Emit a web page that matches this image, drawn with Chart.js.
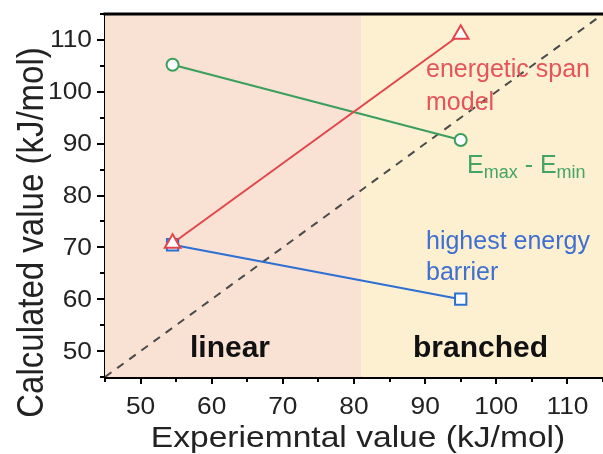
<!DOCTYPE html>
<html>
<head>
<meta charset="utf-8">
<script src="https://cdn.jsdelivr.net/npm/chart.js@4"></script>
<style>
html,body{margin:0;padding:0;background:#fff;}
#wrap{width:603px;height:454px;position:relative;}
</style>
</head>
<body>
<div id="wrap"><canvas id="c" width="603" height="454"></canvas></div>
<script>
// ---- data ----
const expValues = [54.5, 95];
const spanModel = [70.8, 111.1];      // energetic span model (triangles)
const emaxEmin = [105.2, 90.7];       // Emax - Emin (circles)
const highestBarrier = [70.5, 60.0];  // highest energy barrier (squares)
const parityLine = [45, 115];
const xTicks = [50, 60, 70, 80, 90, 100, 110];
const yTicks = [50, 60, 70, 80, 90, 100, 110];
const xTitle = 'Experiemntal value (kJ/mol)';
const yTitle = 'Calculated value (kJ/mol)';
const regionBoundary = 81;
const regionNames = ['linear', 'branched'];

const toPts = (xs, ys) => xs.map((x, i) => ({x: x, y: ys[i]}));

const RED = '#e0464b', GREEN = '#3a9e5c', BLUE = '#2d6fd2';
const FONT = '"Liberation Sans", Arial, sans-serif';
const STRETCH = 1.12;

function stretchedText(ctx, text, x, y, size, align, baseline, rotate) {
  ctx.save();
  ctx.translate(x, y);
  ctx.scale(STRETCH, 1);
  if (rotate) ctx.rotate(-Math.PI / 2);
  ctx.font = size + 'px ' + FONT;
  ctx.textAlign = align;
  ctx.textBaseline = baseline;
  ctx.fillText(text, 0, 0);
  ctx.restore();
}

const decor = {
  id: 'decor',
  beforeDatasetsDraw(chart) {
    const {ctx, chartArea: a, scales: {x}} = chart;
    const bx = x.getPixelForValue(regionBoundary);
    ctx.save();
    ctx.fillStyle = '#f9e1d3';
    ctx.fillRect(a.left, a.top, bx - a.left, a.bottom - a.top);
    ctx.fillStyle = '#fdf0d1';
    ctx.fillRect(bx, a.top, a.right - bx, a.bottom - a.top);
    ctx.restore();
  },
  afterDraw(chart) {
    const {ctx, chartArea: a, scales: {x, y}} = chart;
    ctx.save();
    // top border
    ctx.strokeStyle = '#000';
    ctx.lineWidth = 3;
    ctx.beginPath();
    ctx.moveTo(a.left - 1.5, a.top);
    ctx.lineTo(a.right, a.top);
    ctx.stroke();
    // minor ticks
    ctx.lineWidth = 2;
    for (let v = 45; v <= 115; v += 10) {
      const px = Math.round(x.getPixelForValue(v));
      ctx.beginPath(); ctx.moveTo(px, a.bottom); ctx.lineTo(px, a.bottom + 5); ctx.stroke();
      const py = Math.round(y.getPixelForValue(v));
      ctx.beginPath(); ctx.moveTo(a.left, py); ctx.lineTo(a.left - 5, py); ctx.stroke();
    }
    // tick labels
    ctx.fillStyle = '#222';
    xTicks.forEach(v => stretchedText(ctx, String(v), x.getPixelForValue(v), a.bottom + 37, 23.5, 'center', 'alphabetic'));
    yTicks.forEach(v => stretchedText(ctx, String(v), a.left - 13, y.getPixelForValue(v) + 1, 23.5, 'right', 'middle'));
    // axis titles
    stretchedText(ctx, xTitle, (a.left + a.right) / 2 + 4, a.bottom + 70, 30, 'center', 'alphabetic');
    stretchedText(ctx, yTitle, 43, (a.top + a.bottom) / 2 + 37, 33, 'center', 'alphabetic', true);
    // region labels
    ctx.fillStyle = '#111';
    ctx.font = 'bold 30px ' + FONT;
    ctx.textBaseline = 'alphabetic';
    ctx.textAlign = 'left';
    ctx.fillText(regionNames[0], 190, 357);
    ctx.fillText(regionNames[1], 413, 357);
    // series labels
    ctx.font = '25px ' + FONT;
    ctx.fillStyle = '#e4555a';
    ctx.fillText('energetic span', 426, 77);
    ctx.fillText('model', 426, 110);
    ctx.fillStyle = '#3f6fd0';
    ctx.fillText('highest energy', 426, 249);
    ctx.fillText('barrier', 426, 280);
    ctx.fillStyle = '#44a463';
    let tx = 467;
    ctx.fillText('E', tx, 173); tx += ctx.measureText('E').width;
    ctx.font = '18px ' + FONT;
    ctx.fillText('max', tx, 178); tx += ctx.measureText('max').width;
    ctx.font = '25px ' + FONT;
    ctx.fillText(' - E', tx, 173); tx += ctx.measureText(' - E').width;
    ctx.font = '18px ' + FONT;
    ctx.fillText('min', tx, 178);
    ctx.restore();
  }
};

new Chart(document.getElementById('c'), {
  type: 'scatter',
  data: {
    datasets: [
      {
        data: toPts(parityLine, parityLine), showLine: true, pointRadius: 0,
        borderColor: '#4a4a4a', borderWidth: 2, borderDash: [8, 7], order: 5
      },
      {
        label: 'highest energy barrier', data: toPts(expValues, highestBarrier), showLine: true,
        borderColor: BLUE, borderWidth: 2, pointStyle: 'rect', pointRadius: 8,
        pointBorderWidth: 2, pointBackgroundColor: '#fff', pointBorderColor: BLUE, order: 3
      },
      {
        label: 'Emax - Emin', data: toPts(expValues, emaxEmin), showLine: true,
        borderColor: GREEN, borderWidth: 2, pointStyle: 'circle', pointRadius: 6,
        pointBorderWidth: 2, pointBackgroundColor: '#fff', pointBorderColor: GREEN, order: 2
      },
      {
        label: 'energetic span model', data: toPts(expValues, spanModel), showLine: true,
        borderColor: RED, borderWidth: 2, pointStyle: 'triangle', pointRadius: 9,
        pointBorderWidth: 2, pointBackgroundColor: '#fff', pointBorderColor: RED, order: 1
      }
    ]
  },
  options: {
    responsive: false,
    animation: false,
    layout: {autoPadding: false, padding: {top: 14, right: 0, left: 0, bottom: 0}},
    plugins: {legend: {display: false}, tooltip: {enabled: false}},
    scales: {
      x: {
        type: 'linear', min: 45, max: 115,
        afterBuildTicks: s => { s.ticks = xTicks.map(v => ({value: v})); },
        afterFit: s => { s.height = 77; s.paddingLeft = 0; s.paddingRight = 0; },
        grid: {drawOnChartArea: false, color: '#000', lineWidth: 2, tickLength: 7},
        border: {color: '#000', width: 3},
        ticks: {display: false},
        title: {display: false}
      },
      y: {
        type: 'linear', min: 45, max: 115,
        afterBuildTicks: s => { s.ticks = yTicks.map(v => ({value: v})); },
        afterFit: s => { s.width = 105; s.paddingTop = 0; s.paddingBottom = 0; },
        grid: {drawOnChartArea: false, color: '#000', lineWidth: 2, tickLength: 8},
        border: {color: '#000', width: 3},
        ticks: {display: false},
        title: {display: false}
      }
    }
  },
  plugins: [decor]
});
</script>
</body>
</html>
